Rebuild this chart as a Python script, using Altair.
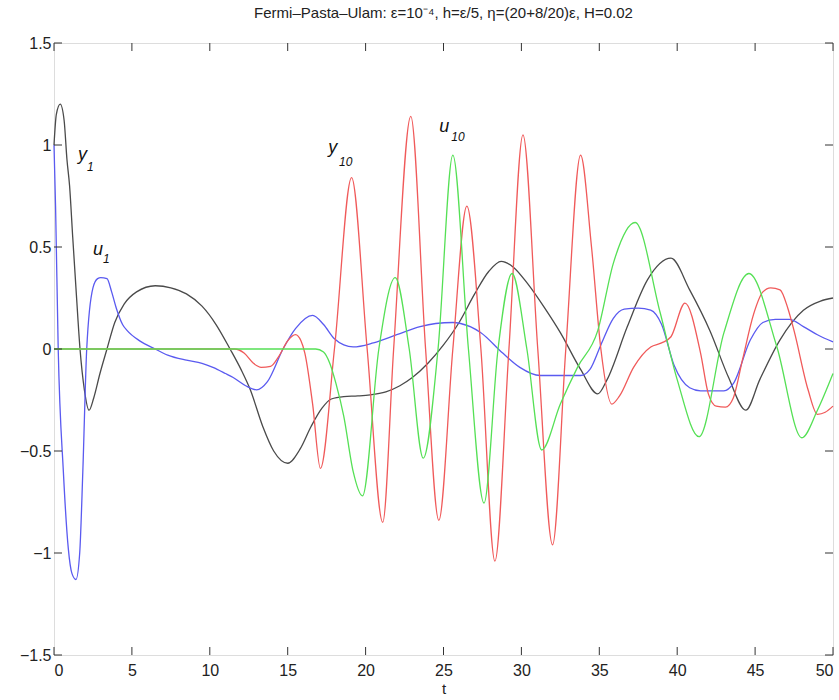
import altair as alt
import pandas as pd

# ---------------- data ----------------
y1_t = [0, 0.15, 0.4, 0.65, 0.83, 1.0, 1.2, 1.45, 1.67, 1.95, 2.25, 2.55, 2.95, 3.4, 3.9, 4.5, 5.3,
        6.5, 7.5, 8.5, 9.5, 10.4, 11.3, 12.0, 12.6, 13.4, 14.1, 15.0, 15.8, 16.5, 17.2, 17.8, 18.6,
        19.5, 20.3, 21.3, 22.2, 23.0, 24.0, 25.0, 26.0, 27.0, 27.9, 28.7, 29.5, 30.4, 31.5, 32.5,
        33.8, 34.9, 35.5, 36.8, 38.1, 39.6, 40.8, 42.1, 43.3, 44.4, 45.3, 46.6, 48.1, 49.2, 50]
y1_v = [1.0, 1.15, 1.2, 1.12, 0.93, 0.8, 0.55, 0.25, 0.0, -0.2, -0.30, -0.24, -0.12, 0.0, 0.13, 0.22,
        0.28, 0.31, 0.30, 0.27, 0.21, 0.12, 0.0, -0.1, -0.2, -0.38, -0.5, -0.56, -0.49, -0.38, -0.29,
        -0.245, -0.233, -0.23, -0.225, -0.21, -0.18, -0.14, -0.07, 0.02, 0.13, 0.27, 0.38, 0.43,
        0.40, 0.32, 0.2, 0.08, -0.1, -0.22, -0.15, 0.11, 0.34, 0.445, 0.29, 0.09, -0.14, -0.30,
        -0.15, 0.045, 0.19, 0.235, 0.25]

u1_t = [0, 0.1, 0.27, 0.6, 0.92, 1.15, 1.41, 1.65, 1.85, 2.1, 2.5, 2.8, 3.0, 3.4, 3.7, 4.0, 4.4, 4.7,
        5.5, 6.5, 7.3, 8.5, 9.5, 10.2, 11.0, 11.5, 12.3, 13.0, 13.7, 14.7, 15.5, 16.6, 17.3, 18.0,
        18.6, 19.2, 20.5, 22.0, 23.5, 24.5, 25.6, 26.1, 27.4, 28.8, 29.9, 31.2, 33.8, 34.4, 35.1,
        35.9, 36.6, 37.5, 38.3, 39.0, 39.8, 40.8, 41.5, 43.0, 43.6, 44.7, 45.5, 46.3, 47.2, 48.1,
        49.0, 50]
u1_v = [1.0, 0.7, 0.0, -0.6, -0.98, -1.10, -1.13, -1.0, -0.6, 0.0, 0.3, 0.345, 0.35, 0.345, 0.28,
        0.2, 0.12, 0.09, 0.04, 0.0, -0.03, -0.055, -0.07, -0.09, -0.12, -0.14, -0.18, -0.20, -0.16,
        0.0, 0.1, 0.165, 0.12, 0.05, 0.02, 0.01, 0.03, 0.07, 0.11, 0.125, 0.13, 0.125, 0.08, -0.02,
        -0.09, -0.13, -0.13, -0.1, 0.02, 0.15, 0.195, 0.2, 0.19, 0.12, -0.08, -0.19, -0.205, -0.205,
        -0.17, 0.045, 0.13, 0.145, 0.145, 0.11, 0.07, 0.035]

y10_t = [0, 11.6, 12.2, 12.8, 13.3, 13.9, 14.4, 15.0, 15.5, 15.85, 16.1, 16.6, 17.1, 18.0, 19.1, 20.1,
         21.1, 21.8, 22.9, 23.85, 24.7, 25.6, 26.5, 27.4, 28.3, 29.2, 30.1, 31.05, 32.0, 32.85, 33.8,
         34.5, 35.1, 35.8, 36.3, 37.2, 38.3, 39.0, 39.6, 40.5, 41.5, 42.0, 42.5, 43.1, 43.6, 44.2,
         44.9, 45.5, 46.0, 46.6, 47.1, 47.5, 48.4, 49.0, 49.5, 50]
y10_v = [0, 0, -0.02, -0.07, -0.09, -0.085, -0.04, 0.04, 0.07, 0.04, -0.02, -0.27, -0.585, 0.0, 0.84,
         0.0, -0.85, 0.0, 1.14, 0.0, -0.84, 0.0, 0.70, 0.0, -1.04, 0.0, 1.05, 0.0, -0.96, 0.0, 0.95,
         0.5, 0.0, -0.27, -0.23, -0.09, 0.01, 0.03, 0.06, 0.225, -0.02, -0.22, -0.28, -0.285, -0.24,
         -0.05, 0.17, 0.28, 0.30, 0.29, 0.2, 0.09, -0.2, -0.32, -0.31, -0.28]

u10_t = [0, 16.8, 17.3, 17.7, 18.1, 18.6, 19.2, 19.8, 20.85, 21.9, 22.8, 23.7, 24.65, 25.6, 26.6,
         27.6, 28.5, 29.4, 30.35, 31.3, 32.5, 33.6, 34.9, 35.9, 37.3, 38.9, 40.0, 41.4, 43.0, 44.6,
         46.4, 48.0, 49.0, 50]
u10_v = [0, 0, -0.015, -0.07, -0.17, -0.33, -0.6, -0.72, 0.0, 0.35, 0.0, -0.535, 0.0, 0.95, 0.0,
         -0.755, 0.0, 0.37, 0.0, -0.495, -0.27, -0.09, 0.09, 0.42, 0.62, 0.18, -0.15, -0.43, 0.08,
         0.37, 0.01, -0.435, -0.3, -0.12]

series_names = ["y1", "u1", "y10", "u10"]
series_colors = ["#4a4a4a", "#5a5af0", "#f05a5a", "#55e055"]

x_ticks = [0, 5, 10, 15, 20, 25, 30, 35, 40, 45, 50]
y_ticks = [-1.5, -1, -0.5, 0, 0.5, 1, 1.5]

# curve labels: main letter and subscript
lab_main = ["y", "u", "y", "u"]
lab_main_t = [1.54, 2.5, 17.6, 24.73]
lab_main_v = [0.925, 0.46, 0.96, 1.064]
lab_sub = ["1", "1", "10", "10"]
lab_sub_t = [2.12, 3.15, 18.3, 25.5]
lab_sub_v = [0.873, 0.42, 0.897, 1.02]

title_text = "Fermi–Pasta–Ulam: ε=10⁻⁴, h=ε/5, η=(20+8/20)ε, H=0.02"

# ---------------- build tables ----------------
frames = []
for name, tt, vv in zip(series_names, [y1_t, u1_t, y10_t, u10_t], [y1_v, u1_v, y10_v, u10_v]):
    frames.append(pd.DataFrame({"t": tt, "v": vv, "s": name}))
curves = pd.concat(frames, ignore_index=True)

FONT = "Liberation Sans"
W, H = 779, 612

xscale = alt.Scale(domain=[0, 50], nice=False, zero=False)
yscale = alt.Scale(domain=[-1.5, 1.5], nice=False, zero=False)
cscale = alt.Scale(domain=series_names, range=series_colors)

base = alt.Chart(curves)

layers = []
axis_layer = alt.Chart(pd.DataFrame({"t": [0, 50], "v": [0, 0]})).mark_point(opacity=0).encode(
    x=alt.X("t:Q", scale=xscale,
            axis=alt.Axis(values=x_ticks, format="d", grid=False, ticks=False, domain=False,
                          labelFont=FONT, labelFontSize=16, labelColor="#222", labelPadding=7,
                          title="t", titleFont=FONT, titleFontSize=15, titleFontWeight="normal",
                          titleColor="#222", titlePadding=3)),
    y=alt.Y("v:Q", scale=yscale,
            axis=alt.Axis(values=y_ticks, format="~f", grid=False, ticks=False, domain=False,
                          labelFont=FONT, labelFontSize=16, labelColor="#222", labelPadding=3,
                          title=None)),
)
layers.append(axis_layer)

for name in series_names:
    layers.append(
        base.transform_filter(alt.datum.s == name).mark_line(
            strokeWidth=1.3, interpolate="monotone").encode(
            x=alt.X("t:Q", scale=xscale),
            y=alt.Y("v:Q", scale=yscale),
            color=alt.Color("s:N", scale=cscale, legend=None),
        )
    )

# inward ticks (MATLAB style box)
xt = pd.DataFrame({"t": x_ticks})
yt = pd.DataFrame({"v": y_ticks})
tick_color = "#333"
layers.append(alt.Chart(xt).mark_rule(color=tick_color, strokeWidth=1).encode(
    x=alt.X("t:Q", scale=xscale), y=alt.value(H), y2=alt.value(H - 8)))
layers.append(alt.Chart(xt).mark_rule(color=tick_color, strokeWidth=1).encode(
    x=alt.X("t:Q", scale=xscale), y=alt.value(0), y2=alt.value(8)))
layers.append(alt.Chart(yt).mark_rule(color=tick_color, strokeWidth=1).encode(
    y=alt.Y("v:Q", scale=yscale), x=alt.value(0), x2=alt.value(8)))
layers.append(alt.Chart(yt).mark_rule(color=tick_color, strokeWidth=1).encode(
    y=alt.Y("v:Q", scale=yscale), x=alt.value(W), x2=alt.value(W - 8)))

# curve labels
lm = pd.DataFrame({"t": lab_main_t, "v": lab_main_v, "txt": lab_main})
ls = pd.DataFrame({"t": lab_sub_t, "v": lab_sub_v, "txt": lab_sub})
layers.append(alt.Chart(lm).mark_text(
    font=FONT, fontSize=18, fontStyle="italic", align="left", baseline="alphabetic",
    color="#111").encode(x=alt.X("t:Q", scale=xscale), y=alt.Y("v:Q", scale=yscale), text="txt:N"))
layers.append(alt.Chart(ls).mark_text(
    font=FONT, fontSize=12, fontStyle="italic", align="left", baseline="alphabetic",
    color="#111").encode(x=alt.X("t:Q", scale=xscale), y=alt.Y("v:Q", scale=yscale), text="txt:N"))

chart = alt.layer(*layers).properties(
    width=W, height=H,
    title=alt.TitleParams(text=title_text, font=FONT, fontSize=15, fontWeight="normal",
                          color="#222", anchor="middle", offset=14),
    autosize=alt.AutoSizeParams(type="none"),
    padding={"left": 54, "top": 43, "right": 6, "bottom": 45},
).configure_view(stroke="#333", strokeWidth=1.5).configure(background="white")

chart.save("out.html", embed_options={"renderer": "svg", "actions": False})
